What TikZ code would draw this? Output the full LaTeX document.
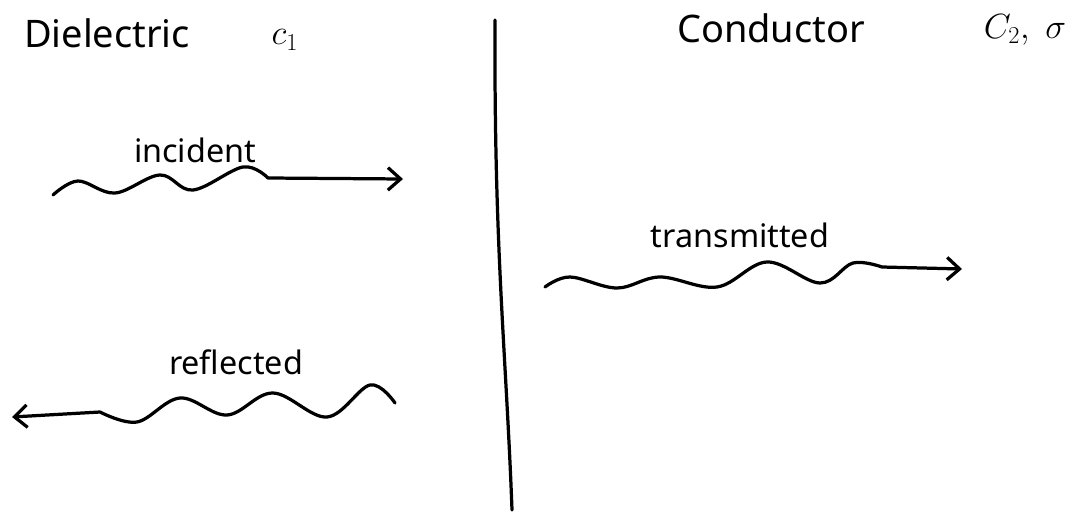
\documentclass[tikz,border=0pt]{standalone}
\usepackage{fontspec}
\setmainfont{Noto Sans}
\usetikzlibrary{arrows.meta}
\tikzset{
  wave/.style={line width=2.3pt,line cap=round,line join=round},
  tip/.style={-{Straight Barb[length=9pt,width=16pt,line width=2.3pt]}},
  head/.style={font=\fontsize{27}{29}\selectfont,inner sep=0pt},
  lbl/.style={font=\fontsize{23}{25}\selectfont,inner sep=0pt}
}
\begin{document}
\begin{tikzpicture}[x=.025cm,y=-.025cm]
\useasboundingbox (0,0) rectangle (1079,513);
\node[head] (diel) at (107,33) {Dielectric};
\node[head] (c1) at (285,40) {$c_1$};
\node[head] (cond) at (771,28) {Conductor};
\node[head] (c2) at (1025,30) {$C_2,\ \sigma$};
\coordinate (top) at (495,20);
\coordinate (bot) at (512,510);
\draw[wave] (top) .. controls (494,250) and (506,350) .. (bot);
\node[lbl] (inc) at (195,150) {incident};
\coordinate (inc-s) at (53,195);
\coordinate (inc-e) at (403,179);
\draw[wave,tip] plot[smooth,tension=.6] coordinates {(inc-s) (78,181) (115,193) (160,175) (193,190) (243,167) (268,178)} -- (inc-e);
\node[lbl] (ref) at (236,362) {reflected};
\coordinate (ref-s) at (395,403);
\coordinate (ref-e) at (12,417);
\draw[wave,tip] plot[smooth,tension=.6] coordinates {(ref-s) (370,385) (327,417) (273,393) (227,415) (180,398) (137,422) (100,412)} -- (ref-e);
\node[lbl] (trans) at (740,235) {transmitted};
\coordinate (tr-s) at (545,287);
\coordinate (tr-e) at (962,269);
\draw[wave,tip] plot[smooth,tension=.6] coordinates {(tr-s) (570,277) (617,288) (660,277) (717,287) (767,262) (820,283) (853,263) (882,267)} -- (tr-e);
\end{tikzpicture}
\end{document}
